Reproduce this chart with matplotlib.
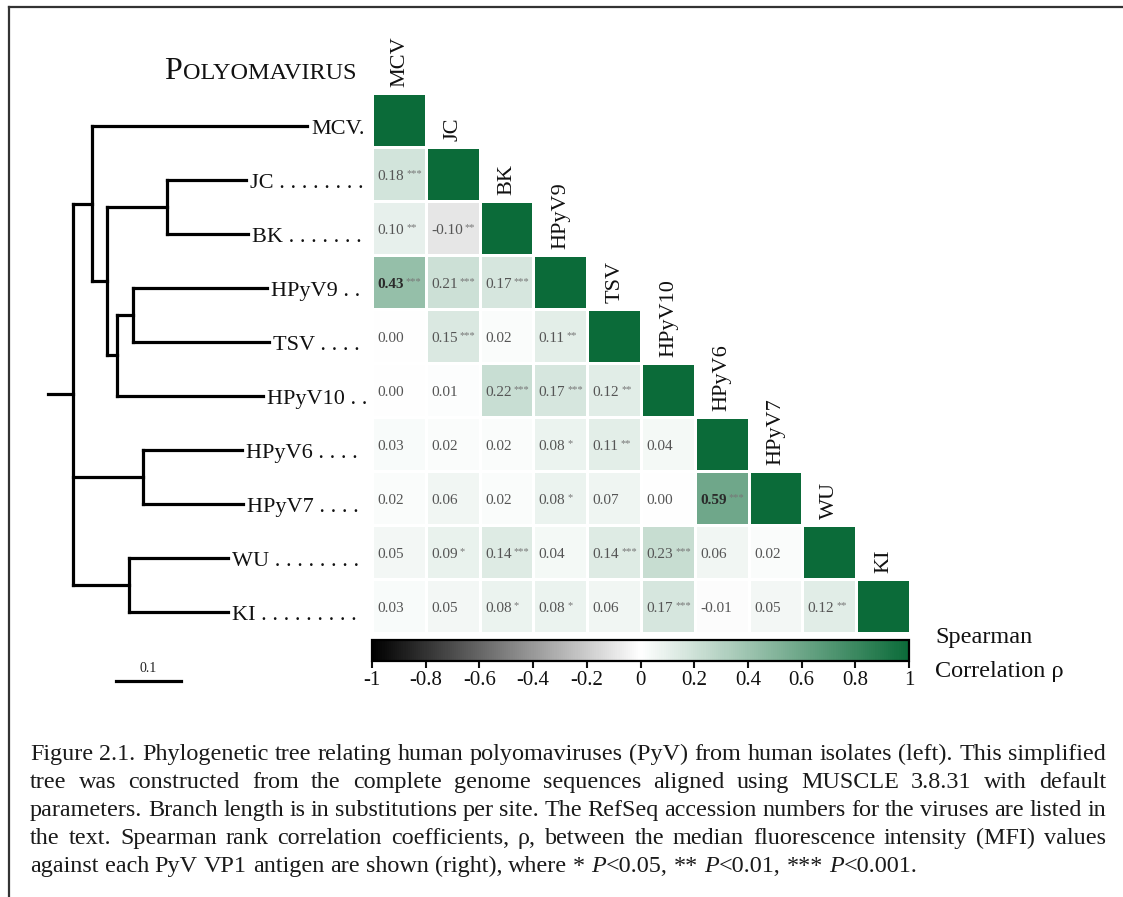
import numpy as np
import matplotlib
matplotlib.use("Agg")
import matplotlib.pyplot as plt
from matplotlib.colors import LinearSegmentedColormap, Normalize
from matplotlib.patches import Rectangle
from matplotlib.lines import Line2D

plt.rcParams["font.family"] = ["Liberation Serif", "DejaVu Serif"]

# ---------------------------------------------------------------
# data
# ---------------------------------------------------------------
VIRUSES = ["MCV", "JC", "BK", "HPyV9", "TSV", "HPyV10", "HPyV6", "HPyV7", "WU", "KI"]
TIP_LABELS = ["MCV.", "JC . . . . . . . .", "BK . . . . . . .", "HPyV9 . .", "TSV . . . .",
              "HPyV10 . .", "HPyV6 . . . .", "HPyV7 . . . .", "WU . . . . . . . .",
              "KI . . . . . . . . ."]

# Spearman rho, lower triangle (row i, columns 0..i-1)
RHO = [
    [],
    [0.18],
    [0.10, -0.10],
    [0.43, 0.21, 0.17],
    [0.00, 0.15, 0.02, 0.11],
    [0.00, 0.01, 0.22, 0.17, 0.12],
    [0.03, 0.02, 0.02, 0.08, 0.11, 0.04],
    [0.02, 0.06, 0.02, 0.08, 0.07, 0.00, 0.59],
    [0.05, 0.09, 0.14, 0.04, 0.14, 0.23, 0.06, 0.02],
    [0.03, 0.05, 0.08, 0.08, 0.06, 0.17, -0.01, 0.05, 0.12],
]
STARS = [
    [],
    ["***"],
    ["**", "**"],
    ["***", "***", "***"],
    ["", "***", "", "**"],
    ["", "", "***", "***", "**"],
    ["", "", "", "*", "**", ""],
    ["", "", "", "*", "", "", "***"],
    ["", "*", "***", "", "***", "***", "", ""],
    ["", "", "*", "*", "", "***", "", "", "**"],
]
CB_TICKS = [-1, -0.8, -0.6, -0.4, -0.2, 0, 0.2, 0.4, 0.6, 0.8, 1]

# tree: (branch length, subtree or tip name), substitutions per site
TREE = [
    (0.029, [(0.331, "MCV"),
             (0.023, [(0.093, [(0.121, "JC"), (0.124, "BK")]),
                      (0.016, [(0.024, [(0.206, "HPyV9"), (0.210, "TSV")]),
                               (0.224, "HPyV10")])])]),
    (0.108, [(0.152, "HPyV6"), (0.154, "HPyV7")]),
    (0.086, [(0.152, "WU"), (0.152, "KI")]),
]
ROOT_STUB = 0.038
SCALE_BAR = 0.1
SCALE_BAR_START = 0.066

CAPTION = [
    "Figure 2.1. Phylogenetic tree relating human polyomaviruses (PyV) from human isolates (left). This simplified",
    "tree was constructed from the complete genome sequences aligned using MUSCLE 3.8.31 with default",
    "parameters. Branch length is in substitutions per site. The RefSeq accession numbers for the viruses are listed in",
    "the text. Spearman rank correlation coefficients, \u03c1, between the median fluorescence intensity (MFI) values",
    "against each PyV VP1 antigen are shown (right), where * P<0.05, ** P<0.01, *** P<0.001.",
]

# ---------------------------------------------------------------
# figure / helpers
# ---------------------------------------------------------------
W, H = 1123, 897
fig = plt.figure(figsize=(W / 100, H / 100), dpi=100)
fig.patch.set_facecolor("white")


def px_axes(left, top, width, height):
    return fig.add_axes([left / W, 1 - (top + height) / H, width / W, height / H])


GREEN = "#0b6b39"
cmap = LinearSegmentedColormap.from_list("bwg", ["black", "white", GREEN])
norm = Normalize(-1, 1)

# ---------------------------------------------------------------
# heatmap
# ---------------------------------------------------------------
ax = px_axes(372.5, 93.5, 538, 540)
ax.set_xlim(-0.5, 9.5)
ax.set_ylim(9.5, -0.5)
ax.axis("off")

g = 0.028
n = len(VIRUSES)
for i in range(n):
    vals = RHO[i] + [1.0]
    for j, v in enumerate(vals):
        ax.add_patch(Rectangle((j - 0.5 + g, i - 0.5 + g), 1 - 2 * g, 1 - 2 * g,
                               facecolor=cmap(norm(v)), edgecolor="none"))
        if j == i:
            continue
        strong = abs(v) >= 0.4
        t = ax.text(j - 0.41, i + 0.04, f"{v:.2f}", ha="left", va="center",
                    fontsize=11, color="#2a2a2a" if strong else "#555555",
                    fontweight="bold" if strong else "normal")
        if STARS[i][j]:
            ax.annotate(STARS[i][j], xy=(1, 1), xycoords=t, xytext=(1.5, 1),
                        textcoords="offset points", ha="left", va="top",
                        fontsize=7.5, color="#777777")
    ax.text(i, i - 0.62, VIRUSES[i], rotation=90, ha="center", va="bottom",
            fontsize=16, color="#111111")

# ---------------------------------------------------------------
# tree
# ---------------------------------------------------------------
tax = px_axes(0, 93.5, 372, 540)
tax.set_xlim(-73 / 650, 299 / 650)
tax.set_ylim(9.4, -0.6)
tax.axis("off")
LW = 2.3
kw = dict(color="black", lw=LW, solid_capstyle="projecting", clip_on=False)


def draw(node, x0):
    bl, sub = node
    x1 = x0 + bl
    if isinstance(sub, str):
        y = VIRUSES.index(sub)
        tax.plot([x0, x1], [y, y], **kw)
        tax.annotate(TIP_LABELS[y], xy=(x1, y), xytext=(3, -5.6), textcoords="offset points",
                     ha="left", va="baseline", fontsize=16, color="#111111",
                     annotation_clip=False)
        return y
    ys = [draw(c, x1) for c in sub]
    tax.plot([x1, x1], [min(ys), max(ys)], **kw)
    y = (min(ys) + max(ys)) / 2
    tax.plot([x0, x1], [y, y], **kw)
    return y


root_ys = [draw(c, 0.0) for c in TREE]
tax.plot([0, 0], [min(root_ys), max(root_ys)], **kw)
ry = (min(root_ys) + max(root_ys)) / 2
tax.plot([-ROOT_STUB, 0], [ry, ry], **kw)

sb_y = 10.28
tax.plot([SCALE_BAR_START, SCALE_BAR_START + SCALE_BAR], [sb_y, sb_y], **kw)
tax.annotate(f"{SCALE_BAR:g}", xy=(SCALE_BAR_START + SCALE_BAR / 2, sb_y), xytext=(0, 4),
             textcoords="offset points", ha="center", va="bottom", fontsize=10,
             color="#222222", annotation_clip=False)

# ---------------------------------------------------------------
# colorbar
# ---------------------------------------------------------------
cax = px_axes(372, 640, 537, 21)
sm = plt.cm.ScalarMappable(norm=norm, cmap=cmap)
cb = fig.colorbar(sm, cax=cax, orientation="horizontal", ticks=CB_TICKS)
cb.ax.set_xticklabels([f"{v:g}" for v in CB_TICKS])
cb.ax.tick_params(length=5, width=1.5, labelsize=15, pad=2, colors="#111111")
cb.outline.set_linewidth(1.6)
fig.text(935 / W, 1 - 643 / H, "Spearman", fontsize=17.5, va="baseline", color="#111111")
fig.text(935 / W, 1 - 677 / H, "Correlation \u03c1", fontsize=17.5, va="baseline", color="#111111")

# title in small caps
renderer = fig.canvas.get_renderer()
tP = fig.text(164 / W, 1 - 79 / H, "P", fontsize=23, va="baseline", color="#111111")
wP = tP.get_window_extent(renderer).width
fig.text((164 + wP + 1) / W, 1 - 79 / H, "OLYOMAVIRUS", fontsize=17.5, va="baseline",
         color="#111111")

# ---------------------------------------------------------------
# caption (justified)
# ---------------------------------------------------------------
CAP_X0, CAP_X1 = 30, 1106
BASE0, PITCH = 760, 28


def pieces(word):
    if word.startswith("P<"):
        return [("P", "italic"), (word[1:], "normal")]
    return [(word, "normal")]


def word_width(word, fs):
    tot = 0
    for s, st in pieces(word):
        t = fig.text(0, 0, s, fontsize=fs, style=st)
        tot += t.get_window_extent(renderer).width
        t.remove()
    return tot


def space_width(fs):
    a = fig.text(0, 0, "a a", fontsize=fs)
    b = fig.text(0, 0, "aa", fontsize=fs)
    w = a.get_window_extent(renderer).width - b.get_window_extent(renderer).width
    a.remove(); b.remove()
    return w


fs0 = 15
nat = sum(word_width(w, fs0) for w in CAPTION[0].split()) + \
    space_width(fs0) * (len(CAPTION[0].split()) - 1)
CAP_FS = fs0 * (CAP_X1 - CAP_X0) / nat

sp = space_width(CAP_FS)
for k, line in enumerate(CAPTION):
    words = line.split()
    widths = [word_width(w, CAP_FS) for w in words]
    last = k == len(CAPTION) - 1
    gap = sp if last else (CAP_X1 - CAP_X0 - sum(widths)) / (len(words) - 1)
    x = CAP_X0
    yb = 1 - (BASE0 + k * PITCH) / H
    for w, ww in zip(words, widths):
        xx = x
        for s, st in pieces(w):
            t = fig.text(xx / W, yb, s, fontsize=CAP_FS, style=st, va="baseline",
                         color="#1a1a1a")
            xx += t.get_window_extent(renderer).width
        x += ww + gap

# frame
fig.add_artist(Line2D([8.5 / W, 8.5 / W], [0, 1 - 7.5 / H], transform=fig.transFigure,
                      color="#333333", lw=1.6))
fig.add_artist(Line2D([8.5 / W, 1], [1 - 7.5 / H, 1 - 7.5 / H], transform=fig.transFigure,
                      color="#333333", lw=1.6))

fig.savefig("out.png", dpi=100)
